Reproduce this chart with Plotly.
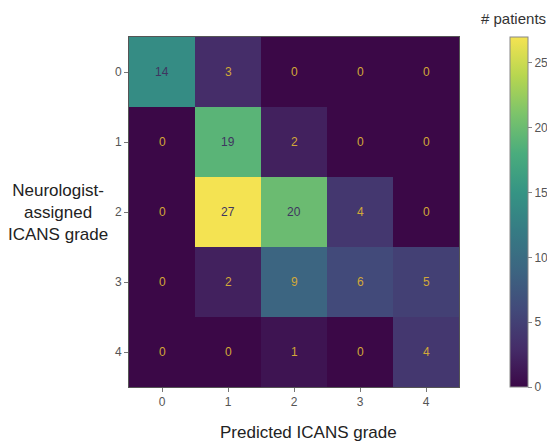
import plotly.graph_objects as go
from plotly.colors import sequential, hex_to_rgb

true_grades = [0, 1, 2, 3, 4]
pred_grades = [0, 1, 2, 3, 4]
counts = [
    [14, 3, 0, 0, 0],
    [0, 19, 2, 0, 0],
    [0, 27, 20, 4, 0],
    [0, 2, 9, 6, 5],
    [0, 0, 1, 0, 4],
]
cbar_ticks = [0, 5, 10, 15, 20, 25]

FONT = "Liberation Sans, Arial"

# slightly muted viridis to match the reference's look
def muted(hexcol, k=0.25):
    r, g, b = hex_to_rgb(hexcol)
    lum = 0.299 * r + 0.587 * g + 0.114 * b
    return "rgb(%d,%d,%d)" % tuple(round(c * (1 - k) + lum * k) for c in (r, g, b))

vir = sequential.Viridis
colorscale = [[i / (len(vir) - 1), muted(c)] for i, c in enumerate(vir)]

zmax = max(max(r) for r in counts)
zmin = min(min(r) for r in counts)
thresh = (zmax + zmin) / 2.0

fig = go.Figure()
fig.add_trace(go.Heatmap(
    z=counts, x=pred_grades, y=true_grades,
    colorscale=colorscale, zmin=zmin, zmax=zmax,
    colorbar=dict(
        xref="container", x=0.9177, xanchor="left", xpad=0,
        y=0.5, yanchor="middle", ypad=0,
        len=1.0, lenmode="fraction", thickness=18,
        outlinewidth=1, outlinecolor="#888",
        tickvals=cbar_ticks, ticks="outside", ticklen=4,
        tickcolor="#888", tickfont=dict(size=12, color="#555", family=FONT),
    ),
    hoverinfo="skip",
))

annotations = []
for i, row in enumerate(counts):
    for j, v in enumerate(row):
        annotations.append(dict(
            x=pred_grades[j], y=true_grades[i], xref="x", yref="y",
            text=str(v), showarrow=False,
            font=dict(size=12, color="#3f3560" if v > thresh else "#d2a838",
                      family=FONT),
        ))

annotations.append(dict(
    x=1.165, y=1.052, xref="paper", yref="paper", text="# patients",
    xanchor="center", yanchor="middle",
    showarrow=False, font=dict(size=15, color="#333", family=FONT),
))
annotations.append(dict(
    x=-0.215, y=0.5, xref="paper", yref="paper",
    text="Neurologist-<br>assigned<br>ICANS grade", align="center",
    xanchor="center", yanchor="middle",
    showarrow=False, font=dict(size=17, color="#222", family=FONT),
))
annotations.append(dict(
    x=0.545, y=-0.131, xref="paper", yref="paper", text="Predicted ICANS grade",
    xanchor="center", yanchor="middle",
    showarrow=False, font=dict(size=17, color="#222", family=FONT),
))

fig.update_layout(
    width=547, height=436,
    margin=dict(l=121, r=96, t=29, b=57, autoexpand=False),
    paper_bgcolor="white", plot_bgcolor="white",
    annotations=annotations,
    showlegend=False,
)
fig.update_xaxes(
    tickvals=pred_grades, ticks="outside", ticklen=4, tickcolor="#777",
    tickfont=dict(size=12, color="#555", family=FONT),
    showline=True, linecolor="#555", linewidth=1, mirror=True,
    showgrid=False, zeroline=False, range=[-0.5, 4.5],
)
fig.update_yaxes(
    tickvals=true_grades, ticks="outside", ticklen=4, tickcolor="#777",
    tickfont=dict(size=12, color="#555", family=FONT),
    showline=True, linecolor="#555", linewidth=1, mirror=True,
    showgrid=False, zeroline=False, range=[4.5, -0.5],
)

fig.write_html("out.html")
